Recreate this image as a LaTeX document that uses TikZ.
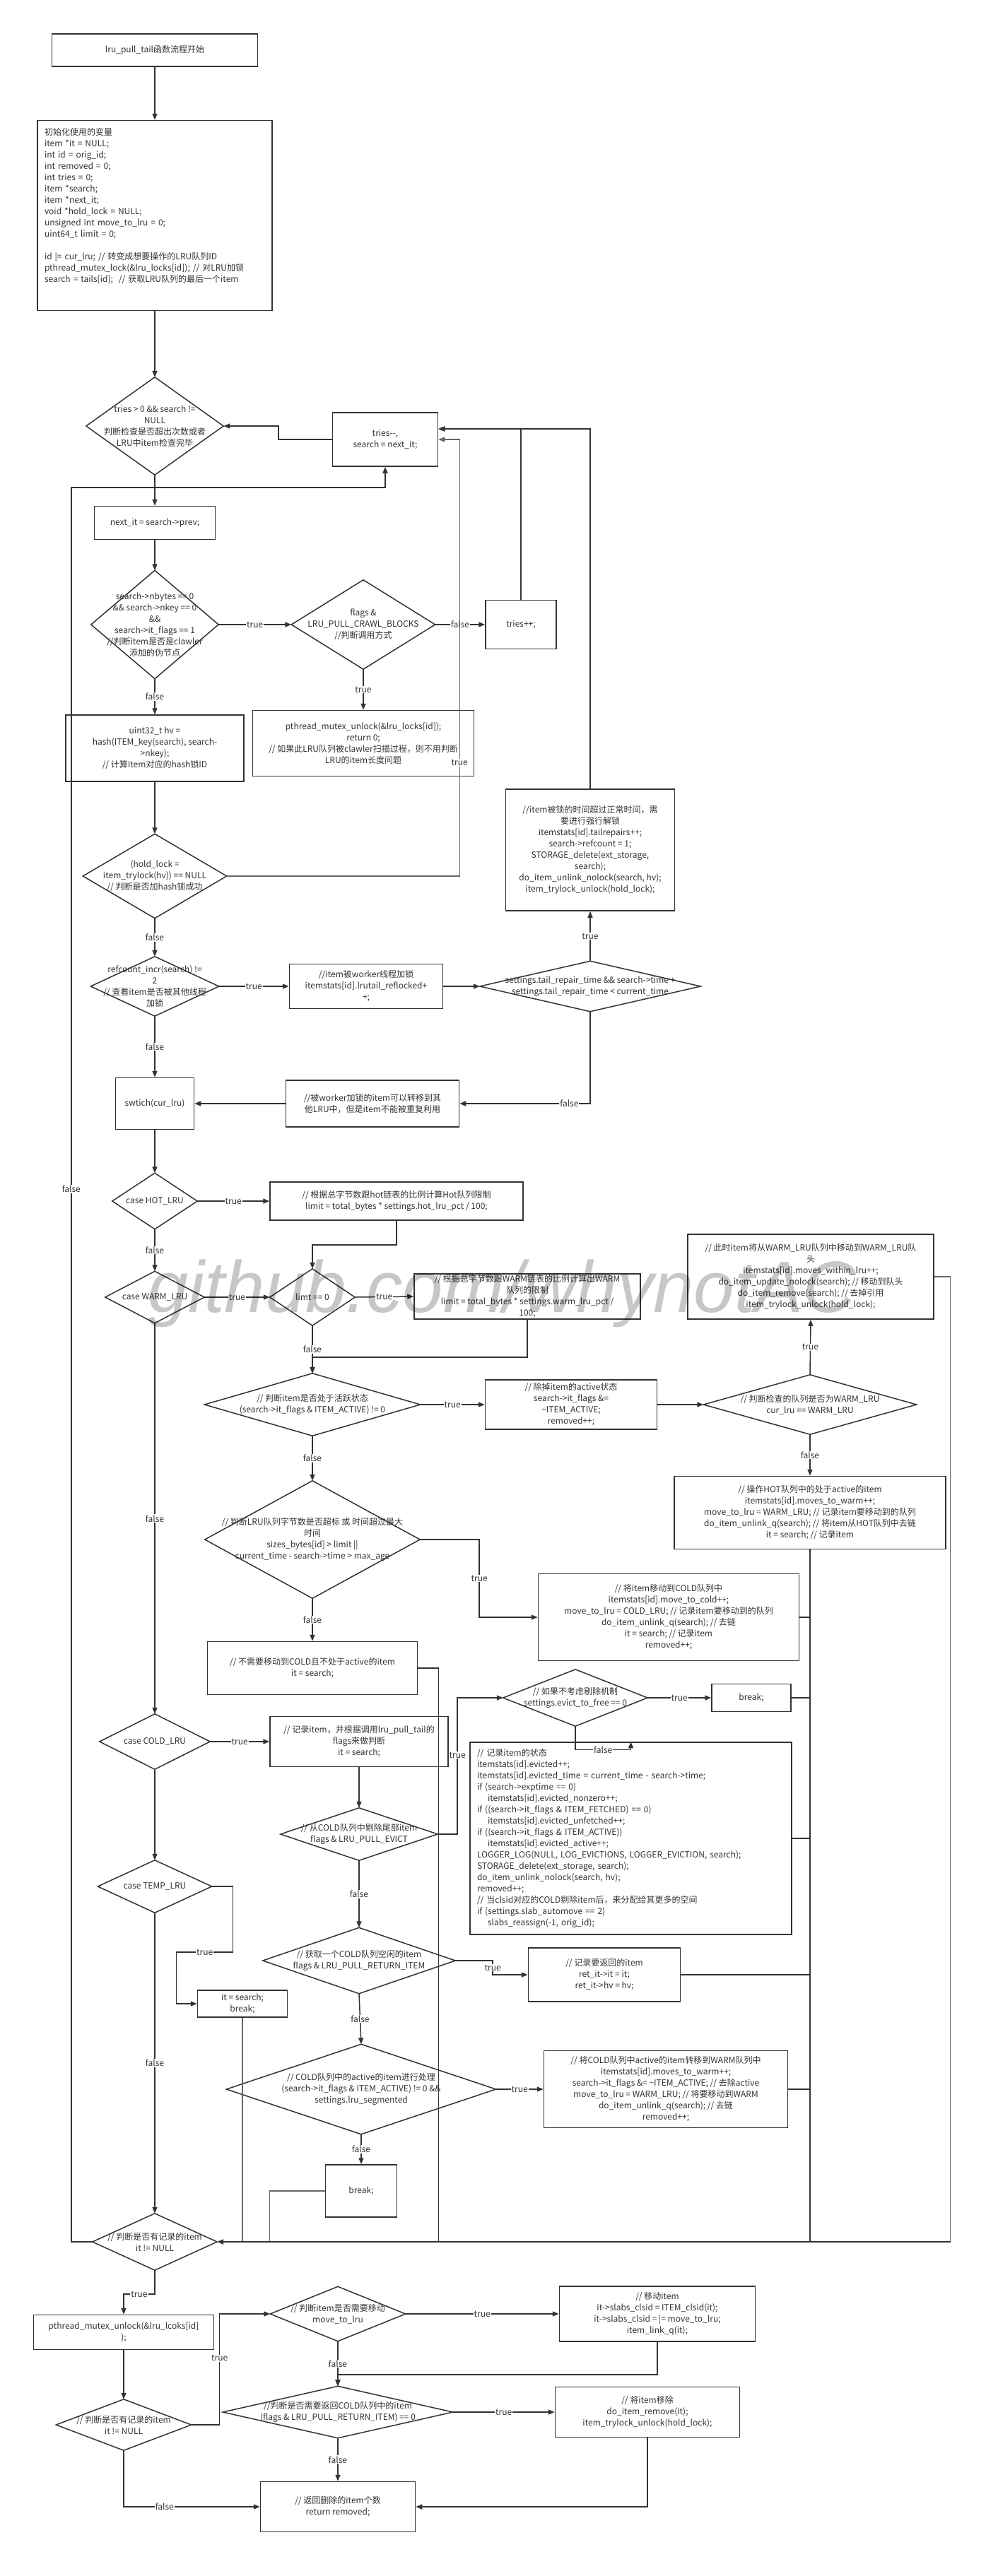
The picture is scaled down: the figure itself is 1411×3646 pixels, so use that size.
\documentclass[tikz,border=0pt]{standalone}
\usepackage{fontspec}
\setmainfont{Noto Sans CJK SC}
\newfontfamily\markfont{Liberation Sans}
\usetikzlibrary{arrows.meta}
\definecolor{lncol}{RGB}{51,51,51}

\begin{document}
\begin{tikzpicture}[x=1pt, y=-1pt,
    every node/.style={font=\fontsize{12}{16}\selectfont, text=lncol},
    box/.style 2 args={draw=lncol, line width=1.5pt, minimum width=#1pt, minimum height=#2pt, inner sep=2pt, align=center},
    dec/.style 2 args={minimum width=#1pt, minimum height=#2pt, inner sep=0pt, align=center,
        append after command={\pgfextra{\draw[draw=lncol, line width=1.5pt]
            (\tikzlastnode.north) -- (\tikzlastnode.east) -- (\tikzlastnode.south) -- (\tikzlastnode.west) -- cycle;}}},
    ln/.style={draw=lncol, line width=1.5pt},
    arr/.style={ln, -{Triangle[length=9pt, width=7pt]}},
    lbl/.style={fill=white, inner sep=1pt},
]
\fill[white] (0,0) rectangle (1411,3646);
\useasboundingbox (0,0) rectangle (1411,3646);

\node[box={291}{46}] (start) at (219,71) {lru\_pull\_tail函数流程开始};
\node[box={332}{269}, align=left, text width=312pt] (init) at (219,305) {初始化使用的变量\\
item *it = NULL;\\
int id = orig\_id;\\
int removed = 0;\\
int tries = 0;\\
item *search;\\
item *next\_it;\\
void *hold\_lock = NULL;\\
unsigned int move\_to\_lru = 0;\\
uint64\_t limit = 0;\\[16pt]
id \textbar= cur\_lru; // 转变成想要操作的LRU队列ID\\
pthread\_mutex\_lock(\&lru\_locks[id]); // 对LRU加锁\\
search = tails[id];\ \ // 获取LRU队列的最后一个item\rule[-30pt]{0pt}{30pt}};

\node[dec={194}{138}] (tries) at (219,603) {tries > 0 \&\& search !=\\NULL\\判断检查是否超出次数或者\\LRU中item检查完毕};
\node[box={149}{76}] (triesdec) at (545,622) {tries-{}-,\\search = next\_it;};
\node[box={171}{47}] (nextit) at (219,740) {next\_it = search->prev;};
\node[dec={180}{153}] (crawl) at (219,884) {search->nbytes == 0\\\&\& search->nkey == 0\\\&\&\\search->it\_flags == 1\\//判断item是否是clawler\\添加的伪节点};
\node[dec={203}{126}] (flags) at (514,884) {flags \&\\LRU\_PULL\_CRAWL\_BLOCKS\\//判断调用方式};
\node[box={100}{69}] (triesinc) at (737,884) {tries++;};
\node[box={313}{93}] (unlock1) at (514,1052) {pthread\_mutex\_unlock(\&lru\_locks[id]);\\return 0;\\// 如果此LRU队列被clawler扫描过程，则不用判断\\LRU的item长度问题};
\node[box={252}{94}] (hv) at (219,1059) {uint32\_t hv =\\hash(ITEM\_key(search), search-\\>nkey);\\// 计算Item对应的hash锁ID};
\node[dec={203}{119}] (hold) at (219,1240) {(hold\_lock =\\item\_trylock(hv)) == NULL\\// 判断是否加hash锁成功};
\node[dec={181}{84}] (refcnt) at (219,1396) {refcount\_incr(search) !=\\2\\// 查看item是否被其他线程\\加锁};
\node[box={217}{63}] (reflock) at (518,1396) {//item被worker线程加锁\\itemstats[id].lrutail\_reflocked+\\+;};
\node[dec={312}{71}] (repair) at (835,1396) {settings.tail\_repair\_time \&\& search->time +\\settings.tail\_repair\_time < current\_time};
\node[box={239}{172}] (tailrep) at (835,1203) {//item被锁的时间超过正常时间，需\\要进行强行解锁\\itemstats[id].tailrepairs++;\\search->refcount = 1;\\STORAGE\_delete(ext\_storage,\\search);\\do\_item\_unlink\_nolock(search, hv);\\item\_trylock\_unlock(hold\_lock);};
\node[box={245}{66}] (reuse) at (527,1562) {//被worker加锁的item可以转移到其\\他LRU中，但是item不能被重复利用};
\node[box={111}{73}] (swlru) at (219,1562) {swtich(cur\_lru)};

\node[dec={120}{79}] (hot) at (219,1700) {case HOT\_LRU};
\node[box={358}{54}] (hotlim) at (561,1700) {// 根据总字节数跟hot链表的比例计算Hot队列限制\\limit = total\_bytes * settings.hot\_lru\_pct / 100;};
\node[dec={140}{73}] (warm) at (219,1836) {case WARM\_LRU};
\node[dec={120}{80}] (limit) at (442,1836) {limt == 0};
\node[box={320}{62}] (warmlim) at (746,1835) {// 根据总字节数跟WARM链表的比例计算出WARM\\队列的限制\\limit = total\_bytes * settings.warm\_lru\_pct /\\100;};
\node[dec={305}{88}] (active) at (442,1988) {// 判断item是否处于活跃状态\\(search->it\_flags \& ITEM\_ACTIVE) != 0};
\node[box={243}{70}] (clract) at (808,1988) {// 除掉item的active状态\\search->it\_flags \&=\\\textasciitilde ITEM\_ACTIVE;\\removed++;};
\node[dec={301}{84}] (iswarm) at (1146,1988) {// 判断检查的队列是否为WARM\_LRU\\cur\_lru == WARM\_LRU};
\node[box={348}{120}] (within) at (1147,1807) {// 此时item将从WARM\_LRU队列中移动到WARM\_LRU队\\头\\itemstats[id].moves\_within\_lru++;\\do\_item\_update\_nolock(search); // 移动到队头\\do\_item\_remove(search); // 去掉引用\\item\_trylock\_unlock(hold\_lock);};
\node[box={384}{103}] (towarm) at (1146,2141) {// 操作HOT队列中的处于active的item\\itemstats[id].moves\_to\_warm++;\\move\_to\_lru = WARM\_LRU; // 记录item要移动到的队列\\do\_item\_unlink\_q(search); // 将item从HOT队列中去链\\it = search; // 记录item};
\node[dec={304}{166}] (sizes) at (442,2179) {// 判断LRU队列字节数是否超标 或 时间超过最大\\时间\\sizes\_bytes[id] > limit \textbar\textbar\\current\_time - search->time > max\_age};
\node[box={369}{123}] (tocold) at (946,2289) {// 将item移动到COLD队列中\\itemstats[id].move\_to\_cold++;\\move\_to\_lru = COLD\_LRU; // 记录item要移动到的队列\\do\_item\_unlink\_q(search); // 去链\\it = search; // 记录item\\removed++;};
\node[box={297}{75}] (keep) at (442,2361) {// 不需要移动到COLD且不处于active的item\\it = search;};

\node[dec={156}{78}] (cold) at (219,2465) {case COLD\_LRU};
\node[box={252}{71}] (record) at (508,2465) {// 记录item，并根据调用lru\_pull\_tail的\\flags来做判断\\it = search;};
\node[dec={222}{74}] (evict) at (508,2596) {// 从COLD队列中剔除尾部item\\flags \& LRU\_PULL\_EVICT};
\node[dec={204}{80}] (nofree) at (814,2403) {// 如果不考虑剔除机制\\settings.evict\_to\_free == 0};
\node[box={112}{39}] (brk1) at (1063,2403) {break;};
\node[box={455}{272}, align=left, text width=435pt] (evicted) at (892.5,2602) {// 记录item的状态\\
itemstats[id].evicted++;\\
itemstats[id].evicted\_time = current\_time - search->time;\\
if (search->exptime == 0)\\
\hspace*{15pt}itemstats[id].evicted\_nonzero++;\\
if ((search->it\_flags \& ITEM\_FETCHED) == 0)\\
\hspace*{15pt}itemstats[id].evicted\_unfetched++;\\
if ((search->it\_flags \& ITEM\_ACTIVE))\\
\hspace*{15pt}itemstats[id].evicted\_active++;\\
LOGGER\_LOG(NULL, LOG\_EVICTIONS, LOGGER\_EVICTION, search);\\
STORAGE\_delete(ext\_storage, search);\\
do\_item\_unlink\_nolock(search, hv);\\
removed++;\\
// 当clsid对应的COLD剔除item后，来分配给其更多的空间\\
if (settings.slab\_automove == 2)\\
\hspace*{15pt}slabs\_reassign(-1, orig\_id);};
\node[dec={161}{74}] (temp) at (219,2670) {case TEMP\_LRU};
\node[dec={272}{93}] (getone) at (508,2775) {// 获取一个COLD队列空闲的item\\flags \& LRU\_PULL\_RETURN\_ITEM};
\node[box={215}{76}] (retit) at (855,2795) {// 记录要返回的item\\ret\_it->it = it;\\ret\_it->hv = hv;};
\node[box={127}{38}] (itbrk) at (343,2836) {it = search;\\break;};
\node[dec={381}{127}] (actseg) at (511,2957) {// COLD队列中的active的item进行处理\\(search->it\_flags \& ITEM\_ACTIVE) != 0 \&\&\\settings.lru\_segmented};
\node[box={345}{109}] (coldwarm) at (942,2957) {// 将COLD队列中active的item转移到WARM队列中\\itemstats[id].moves\_to\_warm++;\\search->it\_flags \&= \textasciitilde ITEM\_ACTIVE; // 去除active\\move\_to\_lru = WARM\_LRU; // 将要移动到WARM\\do\_item\_unlink\_q(search); // 去链\\removed++;};
\node[box={101}{74}] (brk2) at (511,3101) {break;};

\node[dec={176}{80}] (loopit) at (219,3173) {// 判断是否有记录的item\\it != NULL};
\node[box={255}{49}] (unlock2) at (175,3301) {pthread\_mutex\_unlock(\&lru\_lcoks[id]\\);};
\node[dec={191}{72}] (hasit) at (175,3432) {// 判断是否有记录的item\\it != NULL};
\node[dec={191}{77}] (needmv) at (478,3275) {// 判断item是否需要移动\\move\_to\_lru};
\node[box={277}{78}] (mvitem) at (930,3275) {// 移动item\\it->slabs\_clsid = ITEM\_clsid(it);\\it->slabs\_clsid = \textbar= move\_to\_lru;\\item\_link\_q(it);};
\node[dec={325}{73}] (retcold) at (478,3414) {//判断是否需要返回COLD队列中的item\\(flags \& LRU\_PULL\_RETURN\_ITEM) == 0};
\node[box={261}{71}] (rmitem) at (916,3414) {// 将item移除\\do\_item\_remove(it);\\item\_trylock\_unlock(hold\_lock);};
\node[box={219}{71}] (ret) at (478,3548) {// 返回删除的item个数\\return removed;};

% loop head
\draw[arr] (start.south) -- (init.north);
\draw[arr] (init.south) -- (tries.north);
\draw[arr] (tries.south) -- (nextit.north);
\draw[arr] (nextit.south) -- (crawl.north);
\draw[arr] (triesdec.west) -- ++(-76,0) |- (tries.east);

% crawler item
\draw[arr] (crawl.east) -- node[lbl] {true} (flags.west);
\draw[arr] (flags.east) -- node[lbl] {false} (triesinc.west);
\draw[arr] (flags.south) -- node[lbl] {true} (unlock1.north);
\draw[arr] (triesinc.north) |- ([yshift=15pt]triesdec.east);
\draw[arr] (tailrep.north) |- ([yshift=15pt]triesdec.east);

% hash lock and refcount
\draw[arr] (crawl.south) -- node[lbl] {false} (hv.north);
\draw[arr] (hv.south) -- (hold.north);
\draw[arr, draw=black!60, line width=1.2pt] (hold.east) -| node[lbl, pos=0.63] {true} ([xshift=30pt]triesdec.east) -- (triesdec.east);
\draw[arr] (hold.south) -- node[lbl] {false} (refcnt.north);
\draw[arr] (refcnt.east) -- node[lbl] {true} (reflock.west);
\draw[arr] (reflock.east) -- (repair.west);
\draw[arr] (repair.north) -- node[lbl] {true} (tailrep.south);
\draw[arr] (repair.south) |- node[lbl, pos=0.58] {false} (reuse.east);
\draw[arr] (reuse.west) -- (swlru.east);
\draw[arr] (refcnt.south) -- node[lbl] {false} (swlru.north);

% HOT / WARM
\draw[arr] (swlru.south) -- (hot.north);
\draw[arr] (hot.east) -- node[lbl] {true} (hotlim.west);
\draw[arr] (hotlim.south) -- ++(0,34) -| (limit.north);
\draw[arr] (hot.south) -- node[lbl] {false} (warm.north);
\draw[arr] (warm.east) -- node[lbl] {true} (limit.west);
\draw[arr] (limit.east) -- node[lbl] {true} (warmlim.west);
\draw[arr] (warmlim.south) -- ++(0,53) -| (active.north);
\draw[arr] (limit.south) -- node[lbl] {false} (active.north);
\draw[arr] (active.east) -- node[lbl] {true} (clract.west);
\draw[arr] (clract.east) -- (iswarm.west);
\draw[arr] (iswarm.north) -- node[lbl] {true} (within.south);
\draw[arr] (iswarm.south) -- node[lbl] {false} (towarm.north);
\draw[arr] (active.south) -- node[lbl] {false} (sizes.north);
\draw[arr] (sizes.east) -- ++(84,0) |- node[lbl, pos=0.25] {true} (tocold.west);
\draw[arr] (sizes.south) -- node[lbl] {false} (keep.north);

% COLD / TEMP
\draw[arr] (warm.south) -- node[lbl] {false} (cold.north);
\draw[arr] (cold.east) -- node[lbl] {true} (record.west);
\draw[arr] (record.south) -- (evict.north);
\draw[arr] (evict.east) -- ++(28,0) |- node[lbl, pos=0.29] {true} (nofree.west);
\draw[arr] (nofree.east) -- node[lbl] {true} (brk1.west);
\draw[arr] (nofree.south) |- node[lbl, pos=0.75] {false} ([yshift=-11pt]evicted.north) -- (evicted.north);
\draw[arr] (evict.south) -- node[lbl] {false} (getone.north);
\draw[arr] (getone.east) -- ++(53,0) |- node[lbl, pos=0.25] {true} (retit.west);
\draw[arr] (getone.south) -- node[lbl] {false} (actseg.north);
\draw[arr] (actseg.east) -- node[lbl] {true} (coldwarm.west);
\draw[arr] (actseg.south) -- node[lbl] {false} (brk2.north);
\draw[arr] (cold.south) -- (temp.north);
\draw[arr] (temp.east) -- ++(30,0) -- ++(0,93) -- node[lbl] {true} ++(-80,0) |- (itbrk.west);
\draw[arr] (temp.south) -- node[lbl] {false} (loopit.north);

% back to it != NULL
\coordinate (sink) at ([xshift=23pt]within.east |- loopit.east);
\draw[ln, draw=black!60, line width=1.2pt] (within.east) -| (sink);
\draw[ln] (towarm.south) -- (towarm.south |- sink);
\draw[ln] (tocold.east) -- (tocold.east -| towarm.south);
\draw[ln] (brk1.east) -- (brk1.east -| towarm.south);
\draw[ln] (evicted.east) -- (evicted.east -| towarm.south);
\draw[ln] (retit.east) -- (retit.east -| towarm.south);
\draw[ln] (coldwarm.east) -- (coldwarm.east -| towarm.south);
\draw[ln] (keep.east) -| ([xshift=29pt]keep.east |- sink);
\draw[ln, draw=black!60, line width=1.2pt] (itbrk.south) -- (itbrk.south |- sink);
\draw[ln, draw=black!60, line width=1.2pt] (brk2.west) -| ([xshift=-78pt]brk2.west |- sink);
\draw[arr, line width=2.5pt] (sink) -- (loopit.east);
\draw[arr] (loopit.west) -- ++(-30,0) |- node[lbl, pos=0.3] {false} ([yshift=-29pt]triesdec.south) -- (triesdec.south);

% after the loop
\draw[arr] (loopit.south) -- ++(0,34) -| node[lbl, pos=0.25] {true} (unlock2.north);
\draw[arr] (unlock2.south) -- (hasit.north);
\draw[arr] (hasit.east) -- ++(40,0) |- node[lbl, pos=0.3] {true} (needmv.west);
\draw[arr] (needmv.east) -- node[lbl] {true} (mvitem.west);
\draw[arr] (mvitem.south) -- ++(0,46) -| (retcold.north);
\draw[arr] (needmv.south) -- node[lbl] {false} (retcold.north);
\draw[arr] (retcold.east) -- node[lbl] {true} (rmitem.west);
\draw[arr] (rmitem.south) |- (ret.east);
\draw[arr] (retcold.south) -- node[lbl] {false} (ret.north);
\draw[arr] (hasit.south) |- node[lbl, pos=0.65] {false} (ret.west);

\node[font=\markfont\itshape\fontsize{103}{103}\selectfont, text=black, opacity=0.22, anchor=base] (mark) at (710,1857) {github.com/whynotAC};
\end{tikzpicture}
\end{document}
